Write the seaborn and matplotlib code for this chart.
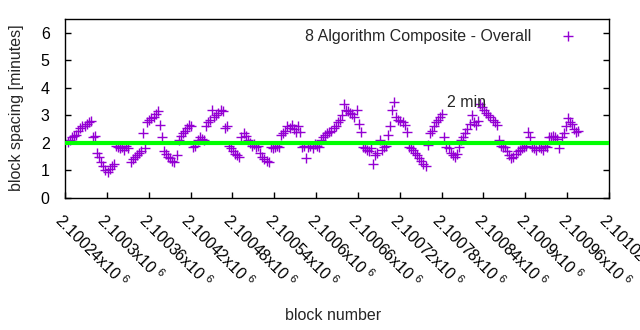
import numpy as np
import pandas as pd
import matplotlib
matplotlib.use("Agg")
import matplotlib.pyplot as plt
import seaborn as sns

# ---- data ----
block_start = 2100244
block_step = 3
spacing = [
    2.05, 2.1, 2.2, 2.25, 2.3,
    2.45, 2.55, 2.6, 2.6, 2.7,
    2.75, 2.8, 2.2, 2.25, 1.65,
    1.5, 1.3, 1.15, 1.0, 0.95,
    1.05, 1.15, 1.25, 1.9, 1.85,
    1.8, 1.85, 1.75, 1.9, 1.8,
    1.3, 1.4, 1.5, 1.55, 1.65,
    1.7, 2.35, 1.8, 2.75, 2.85,
    2.9, 2.95, 3.05, 3.15, 2.65,
    2.2, 1.7, 1.6, 1.5, 1.45,
    1.35, 1.3, 1.55, 2.1, 2.25,
    2.35, 2.45, 2.55, 2.65, 2.6,
    1.85, 1.9, 2.1, 2.2, 2.15,
    2.1, 2.6, 2.75, 2.85, 3.2,
    2.95, 3.0, 3.1, 3.2, 3.15,
    2.55, 2.6, 1.9, 1.8, 1.7,
    1.6, 1.55, 1.5, 2.2, 2.35,
    2.25, 2.1, 2.0, 1.9, 1.95,
    1.85, 1.9, 1.65, 1.5, 1.4,
    1.35, 1.3, 1.85, 1.8, 1.85,
    1.9, 1.85, 2.3, 2.35, 2.45,
    2.6, 2.55, 2.65, 2.5, 2.4,
    2.6, 2.4, 1.85, 1.9, 1.45,
    1.85, 1.9, 1.8, 1.95, 1.9,
    1.85, 2.1, 2.2, 2.3, 2.35,
    2.4, 2.45, 2.55, 2.6, 2.75,
    2.85, 3.0, 3.4, 3.2, 3.15,
    3.1, 3.05, 2.95, 3.2, 2.7,
    2.4, 1.85, 1.8, 1.75, 1.7,
    1.8, 1.25, 1.55, 1.65, 2.1,
    1.75, 1.85, 1.9, 2.3, 2.6,
    3.2, 3.5, 2.95, 2.85, 2.8,
    2.75, 2.65, 2.4, 1.85, 1.8,
    1.75, 1.65, 1.55, 1.45, 1.35,
    1.25, 1.15, 1.93, 2.35, 2.45,
    2.6, 2.75, 2.85, 2.95, 3.05,
    2.2, 1.85, 1.8, 1.65, 1.55,
    1.5, 1.6, 1.85, 2.1, 2.2,
    2.35, 2.5, 2.7, 3.0, 2.75,
    2.65, 2.8, 3.4, 3.3, 3.2,
    3.1, 3.0, 2.95, 2.85, 2.75,
    2.65, 2.1, 1.9, 1.85, 1.85,
    1.7, 1.55, 1.45, 1.5, 1.6,
    1.7, 1.75, 1.8, 1.85, 1.9,
    2.4, 2.2, 1.85, 1.8, 1.75,
    1.85, 1.8, 1.75, 1.9, 1.85,
    2.2, 2.2, 2.25, 2.2, 2.15,
    1.8, 2.2, 2.35, 2.6, 2.9,
    2.75, 2.7, 2.5, 2.4, 2.45,
]
blocks = [block_start + block_step * i for i in range(len(spacing))]
target_minutes = 2.0
series_label = "8 Algorithm Composite - Overall"
note_text = "2 min"
note_x = 2100815
note_y = 3.45
x_ticks = [2100240 + 60 * i for i in range(14)]
y_ticks = [0, 1, 2, 3, 4, 5, 6]

df = pd.DataFrame({"block": blocks, "spacing": spacing})

sns.set_style("white")
plt.rcParams["font.family"] = ["Liberation Sans", "DejaVu Sans"]
plt.rcParams["mathtext.fontset"] = "custom"
plt.rcParams["mathtext.rm"] = "Liberation Sans"
plt.rcParams["mathtext.default"] = "regular"

fig = plt.figure(figsize=(6.4, 3.3), dpi=100)
ax = fig.add_axes([65 / 640, 1 - 198 / 330, 544 / 640, 179 / 330])

sns.scatterplot(data=df, x="block", y="spacing", marker="+", s=55,
                color="#9400D3", linewidth=1.0, ax=ax, label=series_label,
                zorder=2)
ax.axhline(target_minutes, color="#00FF00", lw=3.0, zorder=3)

ax.set_xlim(2100240, 2101020)
ax.set_ylim(0, 6.5)
ax.set_xticks(x_ticks)
ax.set_xticklabels([f"{t/1e6:.6g}x10$^{{\\ 6}}$" for t in x_ticks],
                   rotation=-45, ha="left", va="top", rotation_mode="anchor",
                   fontsize=11.5)
ax.set_yticks(y_ticks)
ax.set_yticklabels([str(v) for v in y_ticks], fontsize=11.5)
ax.tick_params(axis="x", direction="in", length=4, width=1, bottom=True,
               top=False, pad=9, colors="black")
ax.tick_params(axis="y", direction="in", length=4, width=1, left=True,
               right=True, pad=11, colors="black")
for sp in ax.spines.values():
    sp.set_visible(True)
    sp.set_color("black")
    sp.set_linewidth(1.0)

ax.set_xlabel("")
ax.set_ylabel("")
fig.text(333 / 640, 1 - 315 / 330, "block number", ha="center", va="center",
         fontsize=11.5)
fig.text(17 / 640, 1 - 108 / 330, "block spacing [minutes]", ha="center",
         va="center", rotation=90, fontsize=11.5)
ax.text(note_x, note_y, note_text, ha="center", va="center", fontsize=11.5,
        zorder=4)

leg = ax.legend(loc="upper right", frameon=False, markerfirst=False,
                fontsize=11.5, handlelength=1.5, handletextpad=1.6,
                borderaxespad=0.2, bbox_to_anchor=(0.965, 1.0))
for h in leg.legend_handles:
    h.set_sizes([45])

fig.savefig("out.png", dpi=100)
